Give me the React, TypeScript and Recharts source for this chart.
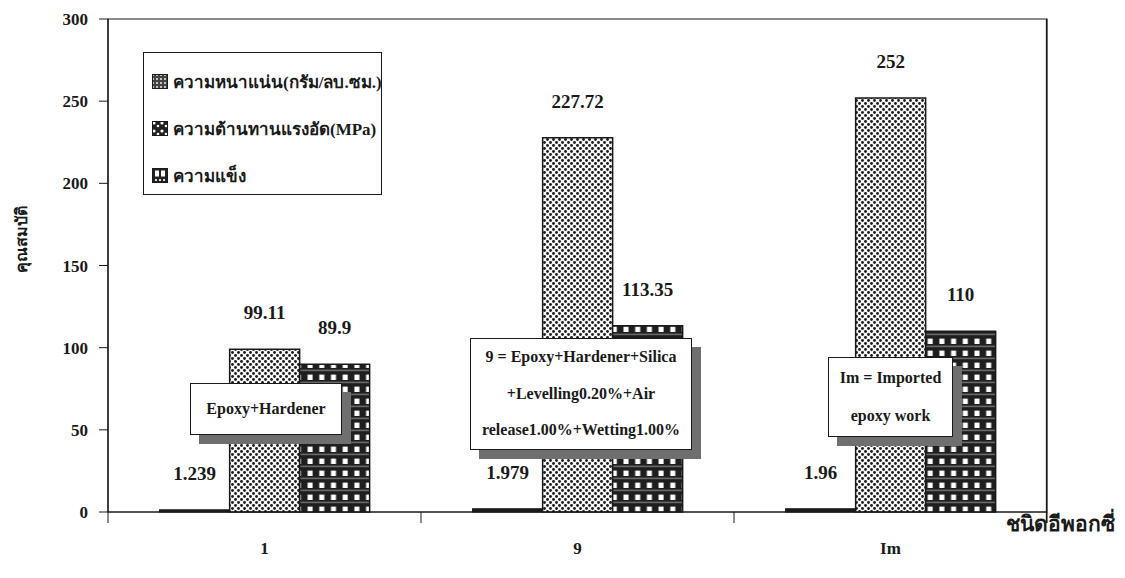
import React from 'react';
import { BarChart, Bar, XAxis, YAxis, ReferenceArea, LabelList } from 'recharts';

// Epoxy floor types and their measured properties
const categories = ['1', '9', 'Im'];
const densityValues = [1.239, 1.979, 1.96];
const compressiveValues = [99.11, 227.72, 252];
const hardnessValues = [89.9, 113.35, 110];
const seriesNames = ['ความหนาแน่น(กรัม/ลบ.ซม.)', 'ความต้านทานแรงอัด(MPa)', 'ความแข็ง'];
const yTicks = [0, 50, 100, 150, 200, 250, 300];
const yTitle = 'คุณสมบัติ';
const xTitle = 'ชนิดอีพอกซี่';
const noteLines = [
  ['Epoxy+Hardener'],
  ['9 = Epoxy+Hardener+Silica', '+Levelling0.20%+Air', 'release1.00%+Wetting1.00%'],
  ['Im = Imported', 'epoxy work'],
];

const data = categories.map((name, i) => ({
  name,
  density: densityValues[i],
  compressive: compressiveValues[i],
  hardness: hardnessValues[i],
}));

const SERIF = "'Liberation Serif', 'Times New Roman', serif";
const INK = '#1a1a1a';

// chart box
const CHART_W = 1125;
const CHART_H = 578;
const MARGIN = { top: 19, right: 78, bottom: 0, left: 0 };
const Y_AXIS_W = 108;
const X_AXIS_H = 66;
const PLOT_RIGHT = CHART_W - MARGIN.right;
const PLOT_TOP = MARGIN.top;
const PLOT_BOTTOM = CHART_H - X_AXIS_H;

const ValueLabel = (props: any) => {
  const { x, y, width, value } = props;
  return (
    <text
      x={Number(x) + Number(width) / 2}
      y={Number(y) - 30}
      textAnchor="middle"
      fontSize={19}
      fontWeight="bold"
      fontFamily={SERIF}
      fill={INK}
    >
      {value}
    </text>
  );
};

const CategoryTick = (props: any) => {
  const { x, y, payload, index } = props;
  const half = payload && payload.offset ? payload.offset : 0;
  return (
    <g>
      {index === 0 && half > 0 && (
        <line x1={x - half} x2={x - half} y1={y} y2={y + 11} stroke={INK} strokeWidth={1} />
      )}
      {half > 0 && <line x1={x + half} x2={x + half} y1={y} y2={y + 11} stroke={INK} strokeWidth={1} />}
      <text x={x} y={y + 42} textAnchor="middle" fontSize={17} fontWeight="bold" fontFamily={SERIF} fill={INK}>
        {payload.value}
      </text>
    </g>
  );
};

const noteBoxes = [
  { left: 190, top: 383, width: 152, height: 52, lineHeight: 52 },
  { left: 470, top: 338, width: 222, height: 112, lineHeight: 36.5 },
  { left: 828, top: 357, width: 125, height: 80, lineHeight: 38 },
];

const LegendIcon = ({ kind }: { kind: number }) => (
  <svg width={16} height={15} style={{ display: 'block' }}>
    <defs>
      <pattern id="lg-a" width={4} height={4} patternUnits="userSpaceOnUse">
        <rect width={4} height={4} fill="#444" />
        <circle cx={1} cy={1} r={0.9} fill="#fff" />
      </pattern>
      <pattern id="lg-b" width={8} height={8} patternUnits="userSpaceOnUse">
        <rect width={8} height={8} fill="#222" />
        <circle cx={2} cy={2} r={1.6} fill="#fff" />
        <circle cx={6} cy={5} r={1.3} fill="#fff" />
      </pattern>
    </defs>
    {kind === 0 && <rect x={0.5} y={0.5} width={15} height={14} fill="url(#lg-a)" stroke={INK} />}
    {kind === 1 && <rect x={0.5} y={0.5} width={15} height={14} fill="url(#lg-b)" stroke={INK} />}
    {kind === 2 && (
      <g>
        <rect x={0.5} y={0.5} width={15} height={14} fill="#222" stroke={INK} />
        <rect x={3} y={2.5} width={4} height={6} fill="#fff" />
        <rect x={9} y={2.5} width={4} height={6} fill="#fff" />
        <rect x={3} y={11} width={2} height={2} fill="#ddd" />
        <rect x={7} y={11} width={2} height={2} fill="#ddd" />
        <rect x={11} y={11} width={2} height={2} fill="#ddd" />
      </g>
    )}
  </svg>
);

export default function App() {
  return (
    <div
      style={{
        position: 'absolute',
        left: 0,
        top: 0,
        width: CHART_W,
        height: CHART_H,
        background: '#fff',
        fontFamily: SERIF,
        overflow: 'hidden',
      }}
    >
      <BarChart
        width={CHART_W}
        height={CHART_H}
        data={data}
        margin={MARGIN}
        barCategoryGap="16.5%"
        barGap={0}
      >
        <defs>
          <pattern id="dots" width={6} height={6} patternUnits="userSpaceOnUse">
            <rect width={6} height={6} fill="#fafafa" />
            <circle cx={1.5} cy={1.5} r={1.45} fill="#1e1e1e" />
            <circle cx={4.5} cy={4.5} r={1.45} fill="#1e1e1e" />
          </pattern>
          <pattern id="grid" width={11.7} height={12} patternUnits="userSpaceOnUse">
            <rect width={11.7} height={12} fill="#1e1e1e" />
            <rect x={0} y={9.6} width={11.7} height={1.6} fill="#6a6a6a" />
            <rect x={3.4} y={2.6} width={5} height={5.4} fill="#fff" />
          </pattern>
        </defs>
        <XAxis
          dataKey="name"
          height={X_AXIS_H}
          tickSize={0}
          tickMargin={0}
          tickLine={false}
          axisLine={{ stroke: INK, strokeWidth: 1.2 }}
          tick={<CategoryTick />}
          interval={0}
        />
        <YAxis
          width={Y_AXIS_W}
          domain={[0, 300]}
          ticks={yTicks}
          interval={0}
          tickSize={9}
          tickMargin={11}
          axisLine={{ stroke: INK, strokeWidth: 1.2 }}
          tickLine={{ stroke: INK }}
          tick={{ fontSize: 17, fontWeight: 'bold', fill: INK, fontFamily: SERIF }}
        />
        {/* plot frame */}
        <ReferenceArea y1={0} y2={300} fill="none" stroke={INK} strokeWidth={1.2} ifOverflow="visible" />
        <Bar dataKey="density" name={seriesNames[0]} fill="#1c1c1c" stroke={INK} strokeWidth={1.2} isAnimationActive={false}>
          <LabelList dataKey="density" content={<ValueLabel />} />
        </Bar>
        <Bar dataKey="compressive" name={seriesNames[1]} fill="url(#dots)" stroke={INK} strokeWidth={1.5} isAnimationActive={false}>
          <LabelList dataKey="compressive" content={<ValueLabel />} />
        </Bar>
        <Bar dataKey="hardness" name={seriesNames[2]} fill="url(#grid)" stroke={INK} strokeWidth={1.5} isAnimationActive={false}>
          <LabelList dataKey="hardness" content={<ValueLabel />} />
        </Bar>
      </BarChart>

      {/* axis titles and right frame edge */}
      <svg width={CHART_W} height={CHART_H} style={{ position: 'absolute', left: 0, top: 0, pointerEvents: 'none' }}>
        <line
          x1={PLOT_RIGHT - 0.5}
          x2={PLOT_RIGHT - 0.5}
          y1={PLOT_TOP}
          y2={PLOT_BOTTOM + 11}
          stroke={INK}
          strokeWidth={1.3}
        />
        <text
          transform="translate(27,239) rotate(-90)"
          textAnchor="middle"
          fontSize={16}
          fontWeight="bold"
          fontFamily={SERIF}
          fill={INK}
        >
          {yTitle}
        </text>
        <text x={1060} y={531} textAnchor="middle" fontSize={21} fontWeight="bold" fontFamily={SERIF} fill={INK}>
          {xTitle}
        </text>
      </svg>

      {/* legend */}
      <div
        style={{
          position: 'absolute',
          left: 143,
          top: 52,
          width: 239,
          height: 143,
          border: `1.5px solid ${INK}`,
          boxSizing: 'border-box',
          background: '#fff',
        }}
      >
        {seriesNames.map((name, i) => (
          <div
            key={name}
            style={{
              position: 'absolute',
              left: 8,
              top: 16 + i * 47,
              height: 24,
              display: 'flex',
              alignItems: 'center',
              whiteSpace: 'nowrap',
            }}
          >
            <LegendIcon kind={i} />
            <span style={{ marginLeft: 5, fontSize: 17, fontWeight: 'bold', color: INK }}>{name}</span>
          </div>
        ))}
      </div>

      {/* annotation boxes */}
      {noteBoxes.map((b, i) => (
        <div
          key={i}
          style={{
            position: 'absolute',
            left: b.left,
            top: b.top,
            width: b.width,
            height: b.height,
            border: `1.5px solid ${INK}`,
            boxSizing: 'border-box',
            background: '#fff',
            boxShadow: '9px 9px 0 #6f6f6f',
            display: 'flex',
            flexDirection: 'column',
            justifyContent: 'center',
            alignItems: 'center',
            fontSize: 16,
            fontWeight: 'bold',
            color: INK,
            lineHeight: `${b.lineHeight}px`,
            whiteSpace: 'nowrap',
          }}
        >
          {noteLines[i].map((line) => (
            <div key={line}>{line}</div>
          ))}
        </div>
      ))}
    </div>
  );
}
